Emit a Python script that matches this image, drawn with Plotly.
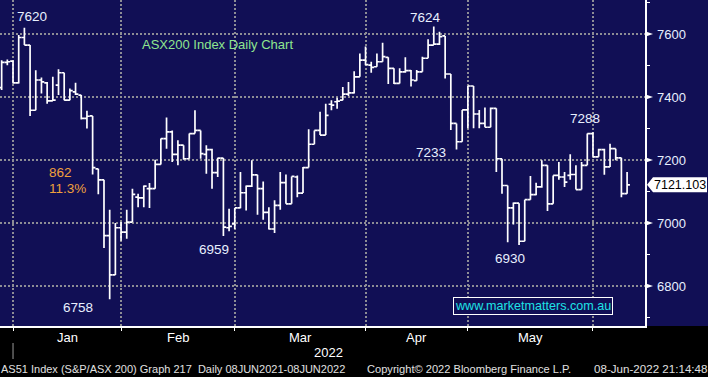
import plotly.graph_objects as go

# ---------------- data ----------------
dates = [
    "2021-12-29", "2021-12-30", "2021-12-31",
    "2022-01-04", "2022-01-05", "2022-01-06", "2022-01-07", "2022-01-10", "2022-01-11", "2022-01-12",
    "2022-01-13", "2022-01-14", "2022-01-17", "2022-01-18", "2022-01-19", "2022-01-20", "2022-01-21",
    "2022-01-24", "2022-01-25", "2022-01-27", "2022-01-28", "2022-01-31",
    "2022-02-01", "2022-02-02", "2022-02-03", "2022-02-04", "2022-02-07", "2022-02-08", "2022-02-09",
    "2022-02-10", "2022-02-11", "2022-02-14", "2022-02-15", "2022-02-16", "2022-02-17", "2022-02-18",
    "2022-02-21", "2022-02-22", "2022-02-23", "2022-02-24", "2022-02-25", "2022-02-28",
    "2022-03-01", "2022-03-02", "2022-03-03", "2022-03-04", "2022-03-07", "2022-03-08", "2022-03-09",
    "2022-03-10", "2022-03-11", "2022-03-14", "2022-03-15", "2022-03-16", "2022-03-17", "2022-03-18",
    "2022-03-21", "2022-03-22", "2022-03-23", "2022-03-24", "2022-03-25", "2022-03-28", "2022-03-29",
    "2022-03-30", "2022-03-31",
    "2022-04-01", "2022-04-04", "2022-04-05", "2022-04-06", "2022-04-07", "2022-04-08", "2022-04-11",
    "2022-04-12", "2022-04-13", "2022-04-14", "2022-04-19", "2022-04-20", "2022-04-21", "2022-04-22",
    "2022-04-26", "2022-04-27", "2022-04-28", "2022-04-29",
    "2022-05-02", "2022-05-03", "2022-05-04", "2022-05-05", "2022-05-06", "2022-05-09", "2022-05-10",
    "2022-05-11", "2022-05-12", "2022-05-13", "2022-05-16", "2022-05-17", "2022-05-18", "2022-05-19",
    "2022-05-20", "2022-05-23", "2022-05-24", "2022-05-25", "2022-05-26", "2022-05-27", "2022-05-30",
    "2022-05-31",
    "2022-06-01", "2022-06-02", "2022-06-03", "2022-06-06", "2022-06-07", "2022-06-08",
]

opens = [
    7430, 7510, 7514,
    7445, 7589, 7565, 7358, 7454, 7445, 7388, 7438, 7477, 7390, 7416, 7406, 7332, 7340, 7172, 7137, 6960, 6835, 6985,
    6971, 7003, 7082, 7080, 7109, 7109, 7186, 7268, 7289, 7218, 7247, 7204, 7284, 7294, 7218, 7233, 7160, 7206, 6985, 6997,
    7048, 7096, 7117, 7153, 7109, 7034, 6981, 7056, 7128, 7061, 7146, 7095, 7176, 7250, 7294, 7279, 7377, 7385, 7390, 7409, 7413, 7464, 7517,
    7501, 7496, 7512, 7526, 7491, 7443, 7480, 7484, 7452, 7480, 7523, 7565, 7568, 7594, 7473, 7316, 7258, 7359,
    7435, 7346, 7316, 7304, 7364, 7204, 7119, 7048, 7063, 6942, 7074, 7090, 7115, 7183, 7061, 7151, 7146, 7151, 7154, 7106, 7183, 7284,
    7210, 7233, 7178, 7236, 7207, 7093,
]
highs = [
    7517, 7519, 7517,
    7597, 7620, 7565, 7485, 7462, 7448, 7464, 7488, 7477, 7427, 7445, 7406, 7356, 7340, 7172, 7137, 7042, 7000, 7003,
    7042, 7109, 7093, 7119, 7127, 7201, 7268, 7335, 7294, 7263, 7247, 7284, 7358, 7294, 7247, 7236, 7207, 7206, 7045, 7048,
    7162, 7119, 7199, 7153, 7132, 7050, 7072, 7162, 7154, 7148, 7151, 7178, 7298, 7294, 7353, 7379, 7390, 7398, 7432, 7448, 7482, 7538, 7560,
    7512, 7538, 7572, 7526, 7491, 7491, 7526, 7486, 7486, 7528, 7583, 7624, 7607, 7594, 7473, 7316, 7359, 7435,
    7435, 7359, 7367, 7367, 7364, 7204, 7119, 7065, 7063, 7074, 7149, 7128, 7199, 7183, 7151, 7194, 7162, 7218, 7183, 7194, 7284, 7288,
    7236, 7236, 7252, 7236, 7207, 7162,
]
lows = [
    7422, 7501, 7443,
    7443, 7565, 7340, 7358, 7411, 7379, 7388, 7406, 7390, 7390, 7406, 7329, 7300, 7154, 7091, 6921, 6758, 6835, 6944,
    6950, 7003, 7050, 7050, 7048, 7109, 7186, 7236, 7194, 7183, 7201, 7204, 7284, 7204, 7156, 7109, 7146, 6959, 6974, 6981,
    7047, 7040, 7114, 7026, 7010, 6979, 6968, 7042, 7061, 7061, 7082, 7095, 7176, 7250, 7279, 7279, 7358, 7363, 7390, 7403, 7411, 7464, 7501,
    7477, 7496, 7512, 7441, 7441, 7443, 7477, 7433, 7452, 7480, 7523, 7565, 7565, 7459, 7295, 7233, 7258, 7301,
    7301, 7301, 7304, 7304, 7162, 7093, 6939, 6995, 6930, 6942, 7074, 7088, 7112, 7038, 7061, 7137, 7114, 7137, 7106, 7106, 7183, 7210,
    7210, 7153, 7178, 7199, 7082, 7093,
]
closes = [
    7510, 7512, 7445,
    7589, 7565, 7358, 7454, 7448, 7388, 7390, 7477, 7390, 7420, 7409, 7332, 7339, 7176, 7137, 6960, 6835, 6985, 6971,
    7003, 7091, 7080, 7117, 7109, 7186, 7268, 7289, 7218, 7247, 7204, 7284, 7294, 7220, 7233, 7160, 7206, 6987, 6989, 7048,
    7096, 7117, 7153, 7109, 7034, 6981, 7056, 7128, 7061, 7148, 7095, 7176, 7250, 7294, 7279, 7342, 7374, 7387, 7409, 7413, 7464, 7517, 7503,
    7494, 7512, 7528, 7491, 7443, 7480, 7484, 7454, 7480, 7523, 7565, 7568, 7592, 7473, 7316, 7258, 7359, 7435,
    7346, 7316, 7304, 7364, 7204, 7119, 7048, 7063, 6942, 7074, 7090, 7115, 7183, 7061, 7151, 7146, 7130, 7154, 7106, 7183, 7284, 7210,
    7233, 7178, 7236, 7207, 7093, 7121.103,
]

month_labels = ["Jan", "Feb", "Mar", "Apr", "May"]
year_label = "2022"
y_tick_start, y_tick_step = 6800, 200

# point labels: (text, x position in bars, price position of the text)
point_labels = [
    ("7620", 5.3, 7657),
    ("7624", 74.5, 7654),
    ("7233", 75.5, 7225),
    ("6959", 37.4, 6917),
    ("6758", 13.4, 6733),
    ("6930", 89.4, 6886),
    ("7288", 102.6, 7333),
]
drop_points = "862"
drop_pct = "11.3%"

# ---------------- styling ----------------
NAVY = "rgb(17,15,85)"
GRID = "#8d8d95"
W, H = 708, 377
PL, PR, PT, PB = 0, 63, 0, 51
PW, PH = W - PL - PR, H - PT - PB
FONT = "Liberation Sans, Arial, sans-serif"

x = list(range(len(dates)))
month_end_idx = [i for i in range(len(dates) - 1) if dates[i][:7] != dates[i + 1][:7]]

x_range = [-0.29, 113.15]
y_range = [6673, 7708]


def px_x(p):
    return p / PW


def px_y(p):
    return 1 - p / PH


def price_y(v):
    return (v - y_range[0]) / (y_range[1] - y_range[0])


fig = go.Figure()
fig.add_trace(go.Ohlc(
    x=x, open=opens, high=highs, low=lows, close=closes,
    increasing=dict(line=dict(color="white", width=1.7)),
    decreasing=dict(line=dict(color="white", width=1.7)),
    tickwidth=0.5, hoverinfo="skip", showlegend=False,
))

shapes = []
# navy panel behind the chart and the right-hand price scale
shapes.append(dict(type="rect", xref="paper", yref="paper", x0=-0.05, x1=px_x(W + 10),
                   y0=0, y1=1.05, fillcolor=NAVY, line=dict(width=0), layer="below"))
# triangles at major y ticks
v = y_tick_start
while v <= y_range[1]:
    yc = price_y(v)
    shapes.append(dict(type="path", xref="paper", yref="paper",
                       path=f"M 1,{yc + 2.8 / PH} L {px_x(PW + 8)},{yc} L 1,{yc - 2.8 / PH} Z",
                       fillcolor="white", line=dict(width=0)))
    v += y_tick_step
# last price label box
last = closes[-1]
ly = price_y(last)
hh = 7.5 / PH
shapes.append(dict(type="path", xref="paper", yref="paper",
                   path=(f"M {px_x(PW + 2)},{ly} L {px_x(PW + 8)},{ly + hh} "
                         f"L {px_x(W - 1)},{ly + hh} L {px_x(W - 1)},{ly - hh} "
                         f"L {px_x(PW + 8)},{ly - hh} Z"),
                   fillcolor="white", line=dict(width=0)))
# year separator mark
shapes.append(dict(type="line", xref="x", yref="paper", x0=month_end_idx[0], x1=month_end_idx[0],
                   y0=px_y(PH + 17), y1=px_y(PH + 33), line=dict(color="#9a9a9a", width=1)))

annotations = []
for t, xi, yv in point_labels:
    annotations.append(dict(x=xi, y=yv, xref="x", yref="y", text=t, showarrow=False, xanchor="center",
                            font=dict(family=FONT, size=13.5, color="#e8f0ff")))
annotations.append(dict(x=38.05, y=7568, xref="x", yref="y", text="ASX200 Index Daily Chart",
                        showarrow=False, xanchor="center",
                        font=dict(family=FONT, size=13, color="#8fe68f")))
annotations.append(dict(x=7.98, y=7160, xref="x", yref="y", text=drop_points, xanchor="left",
                        showarrow=False, font=dict(family=FONT, size=13.5, color="#f0a03c")))
annotations.append(dict(x=7.98, y=7108, xref="x", yref="y", text=drop_pct, xanchor="left",
                        showarrow=False, font=dict(family=FONT, size=13.5, color="#f0a03c")))
annotations.append(dict(x=px_x(532.5), y=px_y(305.5), xref="paper", yref="paper", xanchor="center",
                        yanchor="middle", text="www.marketmatters.com.au", showarrow=False,
                        font=dict(family=FONT, size=12.6, color="#1ee3e6"),
                        bordercolor="white", borderwidth=1, borderpad=1, bgcolor=NAVY))
annotations.append(dict(x=px_x(679.5), y=ly, xref="paper", yref="paper", xanchor="center",
                        yanchor="middle", text=f"{last:.3f}",
                        showarrow=False, font=dict(family=FONT, size=12.5, color="black")))
# month labels centred between month-end grid lines
for k, m in enumerate(month_labels):
    mid = (month_end_idx[k] + month_end_idx[k + 1]) / 2
    annotations.append(dict(x=mid, y=px_y(337), xref="x", yref="paper", text=m, showarrow=False,
                            xanchor="center", yanchor="middle",
                            font=dict(family=FONT, size=13, color="white")))
annotations.append(dict(x=px_x(328), y=px_y(352), xref="paper", yref="paper", text=year_label,
                        xanchor="center", yanchor="middle",
                        showarrow=False, font=dict(family=FONT, size=13, color="white")))
# footer
annotations.append(dict(x=px_x(-1), y=px_y(368.5), xref="paper", yref="paper", xanchor="left",
                        yanchor="middle",
                        text="AS51 Index (S&P/ASX 200) Graph 217  Daily 08JUN2021-08JUN2022",
                        showarrow=False, font=dict(family=FONT, size=11, color="#e0e0e0")))
annotations.append(dict(x=px_x(365), y=px_y(368.5), xref="paper", yref="paper", xanchor="left",
                        yanchor="middle",
                        text="Copyright\u00a9 2022 Bloomberg Finance L.P.",
                        showarrow=False, font=dict(family=FONT, size=11.1, color="#e0e0e0")))
annotations.append(dict(x=px_x(709), y=px_y(368.5), xref="paper", yref="paper", xanchor="right",
                        yanchor="middle",
                        text="08-Jun-2022 21:14:48",
                        showarrow=False, font=dict(family=FONT, size=11.6, color="#e0e0e0")))

fig.update_layout(
    template="none",
    width=W, height=H,
    margin=dict(l=PL, r=PR, t=PT, b=PB, pad=0),
    paper_bgcolor="black", plot_bgcolor=NAVY,
    showlegend=False,
    shapes=shapes, annotations=annotations,
    xaxis=dict(
        range=x_range, automargin=False, rangeslider=dict(visible=False),
        tickmode="array", tickvals=month_end_idx, ticktext=[""] * len(month_end_idx),
        ticks="outside", ticklen=3, tickcolor="white", tickwidth=1,
        showgrid=True, gridcolor=GRID, gridwidth=2, griddash="2px,2px",
        showline=True, linecolor="white", linewidth=1.5, zeroline=False, fixedrange=True,
    ),
    yaxis=dict(
        range=y_range, side="right", automargin=False,
        tick0=y_tick_start, dtick=y_tick_step,
        ticks="outside", ticklen=8, tickcolor="rgba(0,0,0,0)",
        tickfont=dict(family=FONT, size=13, color="#e8f0ff"),
        showgrid=True, gridcolor=GRID, gridwidth=2, griddash="2px,2px",
        showline=True, linecolor="white", linewidth=1.5, zeroline=False, fixedrange=True,
        minor=dict(dtick=100, tick0=0, ticks="outside", ticklen=3, tickcolor="white", showgrid=False),
    ),
)

fig.write_html(
    "out.html",
    config={"displayModeBar": False, "staticPlot": True},
    post_script="document.body.style.margin='0';document.body.style.background='black';",
)
